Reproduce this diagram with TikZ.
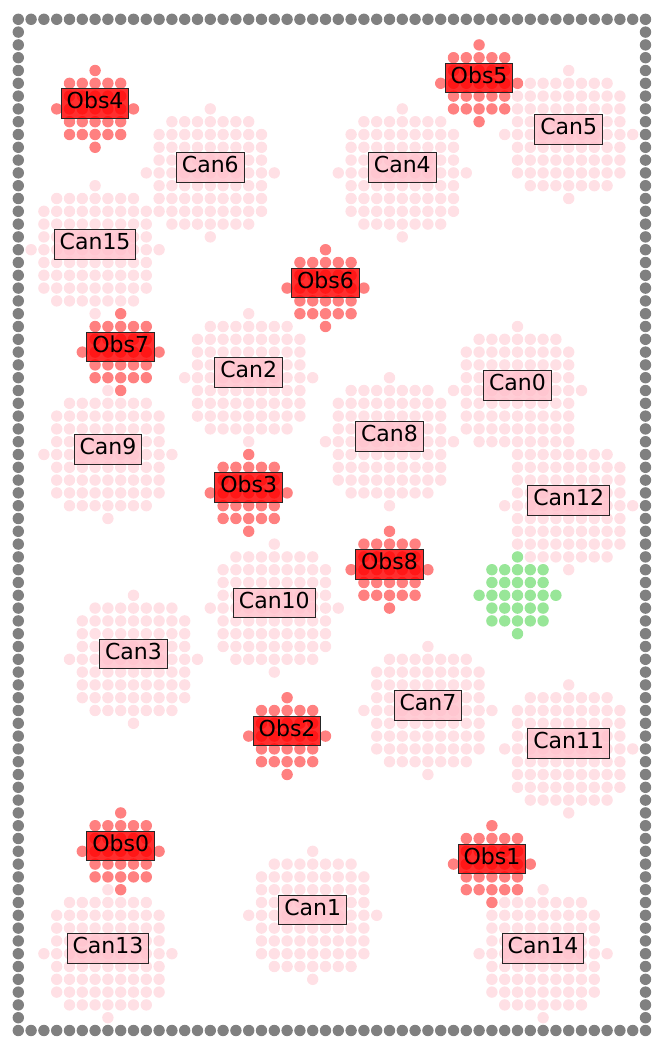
\documentclass[tikz,border=0pt]{standalone}
\usepackage{fontspec}
\setmainfont{DejaVu Sans}
\definecolor{grayd}{RGB}{128,128,128}
\definecolor{obsd}{RGB}{255,128,128}
\definecolor{cand}{RGB}{255,224,229}
\definecolor{goald}{RGB}{152,230,152}
\definecolor{obsbox}{RGB}{255,0,0}
\definecolor{canbox}{RGB}{255,192,203}
\newcommand\mydisc[5]{%
  \foreach \h [count=\k from 0] in #3 {%
    \foreach \dx in {-\h,...,\h} {%
      \fill[#5] ({18.3+12.8*(#1+(\dx))},{19.3+12.8*(#2+\k-#4)}) circle[radius=5.7pt];
    }}}
\newcommand\rthree{0,2,2,3,2,2,0}
\newcommand\rfive{0,3,4,4,4,5,4,4,4,3,0}
\newcommand\mylab[5]{\node[#1] (#2) at ({18.3+12.8*#3},{19.3+12.8*#4}) {#5};}
\tikzset{
  lab/.style={anchor=base, draw=black!85, line width=1pt, inner xsep=5.5pt, inner ysep=0pt,
    text height=20pt, text depth=9.5pt, text=black, text opacity=1,
    font=\fontsize{22}{26}\selectfont},
  obslab/.style={lab, fill=obsbox, fill opacity=0.82},
  canlab/.style={lab, fill=canbox, fill opacity=0.8},
}
\begin{document}
\begin{tikzpicture}[x=1pt,y=-1pt]
\useasboundingbox (0,0) rectangle (660,1055);
% border
\foreach \i in {0,...,49} {
  \fill[grayd] ({18.3+12.8*\i},19.3) circle[radius=5.7pt];
  \fill[grayd] ({18.3+12.8*\i},{19.3+12.8*79}) circle[radius=5.7pt];
}
\foreach \j in {1,...,78} {
  \fill[grayd] (18.3,{19.3+12.8*\j}) circle[radius=5.7pt];
  \fill[grayd] ({18.3+12.8*49},{19.3+12.8*\j}) circle[radius=5.7pt];
}
% obstacles
\mydisc{8}{65}{\rthree}{3}{obsd}
\mydisc{37}{66}{\rthree}{3}{obsd}
\mydisc{21}{56}{\rthree}{3}{obsd}
\mydisc{18}{37}{\rthree}{3}{obsd}
\mydisc{6}{7}{\rthree}{3}{obsd}
\mydisc{36}{5}{\rthree}{3}{obsd}
\mydisc{24}{21}{\rthree}{3}{obsd}
\mydisc{8}{26}{\rthree}{3}{obsd}
\mydisc{29}{43}{\rthree}{3}{obsd}
% candidates
\mydisc{39}{29}{\rfive}{5}{cand}
\mydisc{23}{70}{\rfive}{5}{cand}
\mydisc{18}{28}{\rfive}{5}{cand}
\mydisc{9}{50}{\rfive}{5}{cand}
\mydisc{30}{12}{\rfive}{5}{cand}
\mydisc{43}{9}{\rfive}{5}{cand}
\mydisc{15}{12}{\rfive}{5}{cand}
\mydisc{32}{54}{\rfive}{5}{cand}
\mydisc{29}{33}{\rfive}{5}{cand}
\mydisc{7}{34}{\rfive}{5}{cand}
\mydisc{20}{46}{\rfive}{5}{cand}
\mydisc{43}{57}{\rfive}{5}{cand}
\mydisc{43}{38}{\rfive}{5}{cand}
\mydisc{7}{73}{\rfive}{5}{cand}
\mydisc{41}{73}{\rfive}{5}{cand}
\mydisc{6}{18}{\rfive}{5}{cand}
% goal
\mydisc{39}{45}{\rthree}{3}{goald}
% labels
\mylab{obslab}{obs0}{8}{65}{Obs0}
\mylab{obslab}{obs1}{37}{66}{Obs1}
\mylab{obslab}{obs2}{21}{56}{Obs2}
\mylab{obslab}{obs3}{18}{37}{Obs3}
\mylab{obslab}{obs4}{6}{7}{Obs4}
\mylab{obslab}{obs5}{36}{5}{Obs5}
\mylab{obslab}{obs6}{24}{21}{Obs6}
\mylab{obslab}{obs7}{8}{26}{Obs7}
\mylab{obslab}{obs8}{29}{43}{Obs8}
\mylab{canlab}{can0}{39}{29}{Can0}
\mylab{canlab}{can1}{23}{70}{Can1}
\mylab{canlab}{can2}{18}{28}{Can2}
\mylab{canlab}{can3}{9}{50}{Can3}
\mylab{canlab}{can4}{30}{12}{Can4}
\mylab{canlab}{can5}{43}{9}{Can5}
\mylab{canlab}{can6}{15}{12}{Can6}
\mylab{canlab}{can7}{32}{54}{Can7}
\mylab{canlab}{can8}{29}{33}{Can8}
\mylab{canlab}{can9}{7}{34}{Can9}
\mylab{canlab}{can10}{20}{46}{Can10}
\mylab{canlab}{can11}{43}{57}{Can11}
\mylab{canlab}{can12}{43}{38}{Can12}
\mylab{canlab}{can13}{7}{73}{Can13}
\mylab{canlab}{can14}{41}{73}{Can14}
\mylab{canlab}{can15}{6}{18}{Can15}
\end{tikzpicture}
\end{document}
